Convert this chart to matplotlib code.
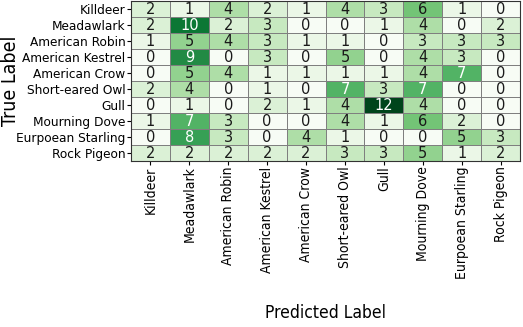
import numpy as np
import matplotlib
matplotlib.use("Agg")
import matplotlib.pyplot as plt

labels = ["Killdeer", "Meadawlark", "American Robin", "American Kestrel",
          "American Crow", "Short-eared Owl", "Gull", "Mourning Dove",
          "Eurpoean Starling", "Rock Pigeon"]

counts = np.array([
    [2, 1, 4, 2, 1, 4, 3, 6, 1, 0],
    [2, 10, 2, 3, 0, 0, 1, 4, 0, 2],
    [1, 5, 4, 3, 1, 1, 0, 3, 3, 3],
    [0, 9, 0, 3, 0, 5, 0, 4, 3, 0],
    [0, 5, 4, 1, 1, 1, 1, 4, 7, 0],
    [2, 4, 0, 1, 0, 7, 3, 7, 0, 0],
    [0, 1, 0, 2, 1, 4, 12, 4, 0, 0],
    [1, 7, 3, 0, 0, 4, 1, 6, 2, 0],
    [0, 8, 3, 0, 4, 1, 0, 0, 5, 3],
    [2, 2, 2, 2, 2, 3, 3, 5, 1, 2],
])

# the reference uses a narrow face
plt.rcParams["font.family"] = "DejaVu Sans"
plt.rcParams["font.stretch"] = "condensed"

fig = plt.figure(figsize=(5.23, 3.27), dpi=100)
ax = fig.add_axes([131 / 523, 1 - 161 / 327, 389 / 523, 160 / 327])

ax.pcolormesh(counts, cmap="Greens", vmin=0, vmax=counts.max(),
              edgecolors="#7f7f7f", linewidth=0.6)
ax.set_xlim(0, 10)
ax.set_ylim(10, 0)

for i in range(counts.shape[0]):
    for j in range(counts.shape[1]):
        v = counts[i, j]
        ax.text(j + 0.5, i + 0.5, str(v), ha="center", va="center",
                fontsize=10.5, fontstretch="normal",
                color="white" if v > 6 else "#1a1a1a")

ax.set_xticks(np.arange(10) + 0.5)
ax.set_yticks(np.arange(10) + 0.5)
ax.set_xticklabels(labels, rotation=90, fontsize=10)
ax.set_yticklabels(labels, fontsize=9.7)
ax.tick_params(length=3, width=0.8, pad=1)
for s in ax.spines.values():
    s.set_color("#333333")

ax.set_xlabel("Predicted Label", fontsize=12.5)
ax.xaxis.set_label_coords(0.5, -0.895)
ax.set_ylabel("True Label", fontsize=14)
ax.yaxis.set_label_coords(-0.285, 0.5)

fig.savefig("out.png", dpi=100)
